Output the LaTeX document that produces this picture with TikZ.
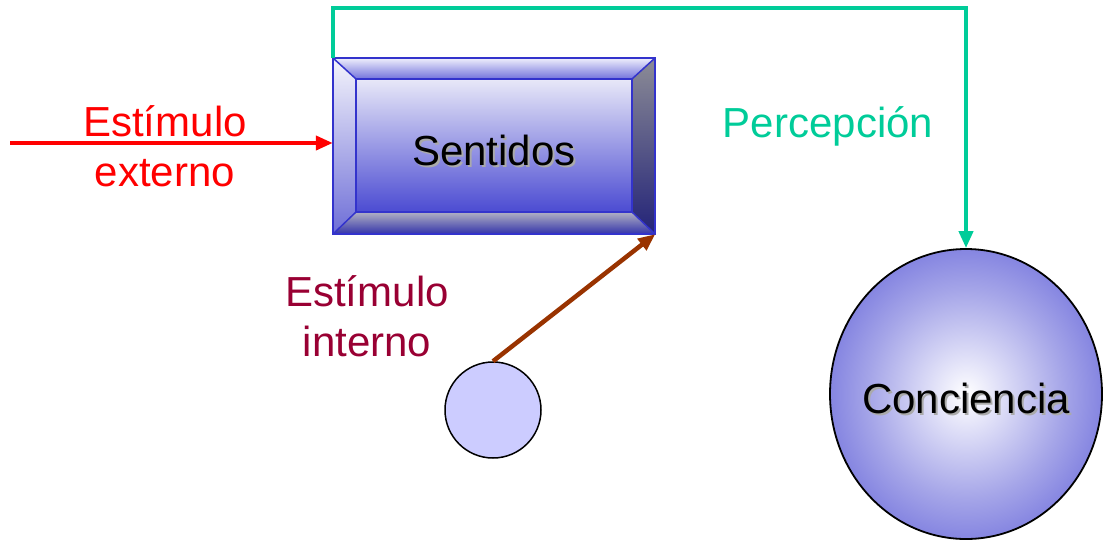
\documentclass[tikz,border=0pt]{standalone}
\usepackage{fontspec}
\setmainfont{Liberation Sans}
\usetikzlibrary{arrows.meta,shapes.geometric,backgrounds,calc}
\definecolor{boxblue}{RGB}{51,51,204}
\definecolor{extred}{RGB}{255,0,0}
\definecolor{intred}{RGB}{153,0,51}
\definecolor{percgreen}{RGB}{0,204,153}
\definecolor{arrbrown}{RGB}{153,51,0}
\definecolor{lavender}{RGB}{204,204,255}
\definecolor{concblue}{RGB}{88,88,215}
\definecolor{concmid}{RGB}{165,165,232}
\definecolor{conclight}{RGB}{225,225,248}
\definecolor{shadowgray}{RGB}{170,170,170}
\newcommand{\shtext}[1]{\makebox[0pt][l]{\kern2pt\raisebox{-2pt}{\color{shadowgray}#1}}#1}
\pgfdeclareradialshading{concshade}{\pgfpoint{0bp}{0bp}}{color(0bp)=(white); color(6bp)=(conclight); color(18bp)=(concmid); color(35bp)=(concblue); color(50bp)=(concblue)}
\tikzset{>={Triangle[length=17pt,width=14pt]}}

\begin{document}
\begin{tikzpicture}[x=1pt,y=-1pt,font=\fontsize{42}{50}\selectfont]
		\useasboundingbox (0,0) rectangle (1109,539);
		\node(sentidos)[rectangle,minimum width=322pt,minimum height=176pt,inner sep=0,text height=42pt] at (494,146){\shtext{Sentidos}};
		\node(conciencia)[ellipse,draw,line width=1.8pt,minimum width=272pt,minimum height=290pt,inner sep=0,text height=42pt,shading=concshade] at (966,394){\makebox[0pt]{\shtext{Conciencia}}};
		\node(estim)[circle,draw,line width=1.5pt,fill=lavender,minimum size=96pt,inner sep=0] at (493,410){};
		\coordinate(ext) at (10,143);
		\node(extlabel)[align=center,text=extred,inner sep=0] at (165,146){Estímulo\\externo};
		\node(intlabel)[align=center,text=intred,inner sep=0] at (367,316){Estímulo\\interno};
		\node(perclabel)[text=percgreen,inner sep=0] at (828,126){Percepción};
		% bevelled box
		\begin{scope}[on background layer]
			\coordinate(inw) at ($(sentidos.north west)+(23,21)$);
			\coordinate(ine) at ($(sentidos.north east)+(-23,21)$);
			\coordinate(isw) at ($(sentidos.south west)+(23,-22)$);
			\coordinate(ise) at ($(sentidos.south east)+(-23,-22)$);
			\shade[top color={rgb,255:red,232;green,232;blue,248},bottom color={rgb,255:red,75;green,75;blue,210}] (inw) rectangle (ise);
			\shade[top color={rgb,255:red,240;green,240;blue,252},bottom color={rgb,255:red,115;green,115;blue,220}] (sentidos.north west) -- (sentidos.north east) -- (ine) -- (inw) -- cycle;
			\shade[top color={rgb,255:red,245;green,245;blue,252},bottom color={rgb,255:red,110;green,110;blue,215}] (sentidos.north west) -- (inw) -- (isw) -- (sentidos.south west) -- cycle;
			\shade[top color={rgb,255:red,140;green,140;blue,150},bottom color={rgb,255:red,35;green,35;blue,120}] (sentidos.north east) -- (sentidos.south east) -- (ise) -- (ine) -- cycle;
			\shade[top color={rgb,255:red,175;green,175;blue,195},bottom color={rgb,255:red,50;green,50;blue,170}] (sentidos.south west) -- (isw) -- (ise) -- (sentidos.south east) -- cycle;
			\draw[boxblue,line width=1.5pt] (sentidos.north west) rectangle (sentidos.south east);
			\draw[boxblue,line width=1.5pt] (inw) rectangle (ise);
			\draw[boxblue,line width=1.5pt] (sentidos.north west) -- (inw) (sentidos.north east) -- (ine) (sentidos.south west) -- (isw) (sentidos.south east) -- (ise);
		\end{scope}
		\draw[->,extred,line width=4pt](ext) to (sentidos.west |- ext);
		\draw[->,arrbrown,line width=4.5pt](estim.north) to (sentidos.south east);
		\draw[->,percgreen,line width=4pt](sentidos.north west) -- ++(0,-50) -| (conciencia.north);
	\end{tikzpicture}
\end{document}
